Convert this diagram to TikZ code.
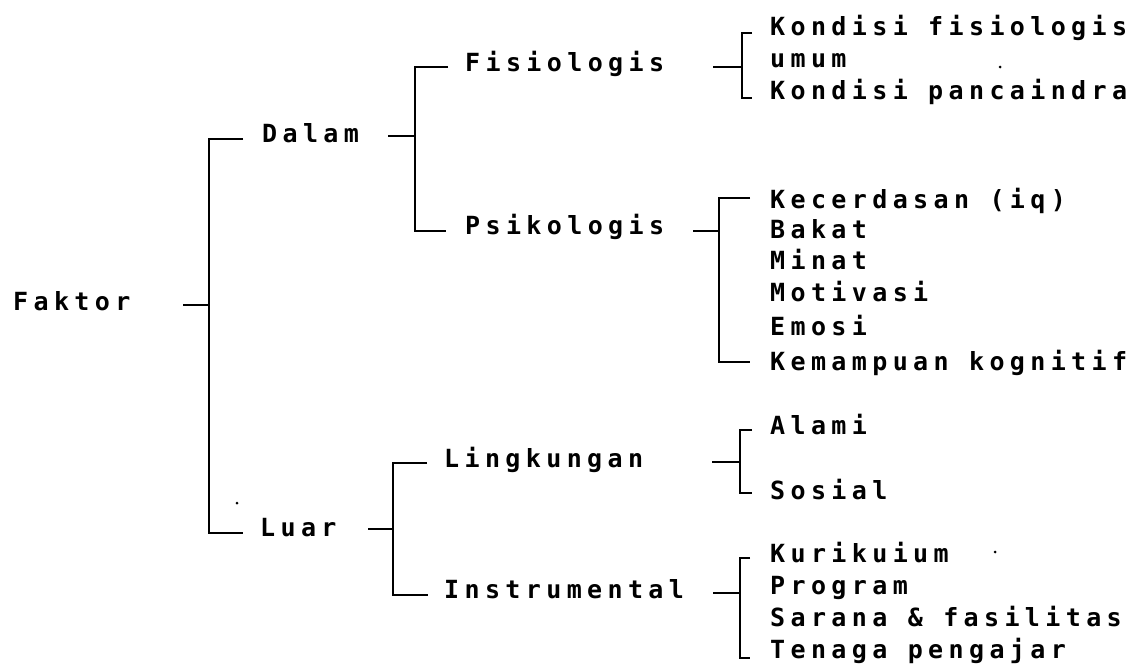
\documentclass[tikz,border=0pt]{standalone}
\usepackage{fontspec}
\newfontfamily\twfont[LetterSpace=21.5]{DejaVu Sans Mono Bold}
\begin{document}
\begin{tikzpicture}[x=1pt,y=-1pt,
  lbl/.style={anchor=base west, inner sep=0pt, font=\twfont\fontsize{25}{28}\selectfont},
  ln/.style={line width=2.8pt, line cap=butt, line join=miter},
  speck/.style={fill=black, inner sep=0pt, minimum size=3pt, circle}]
\useasboundingbox (0,0) rectangle (1138,672);

% level 0/1/2 labels
\node[lbl] (faktor) at (13,310) {Faktor};
\node[lbl] (dalam)  at (262,142) {Dalam};
\node[lbl] (luar)   at (260,536) {Luar};
\node[lbl] (fis)    at (465,71)  {Fisiologis};
\node[lbl] (psi)    at (465,234) {Psikologis};
\node[lbl] (ling)   at (444,467) {Lingkungan};
\node[lbl] (inst)   at (444,598) {Instrumental};

% leaves
\node[lbl] (f1) at (770,35) {Kondisi fisiologis};
\node[lbl] (f2) at (770,67) {umum};
\node[lbl] (f3) at (770,99) {Kondisi pancaindra};

\node[lbl] (p1) at (770,208) {Kecerdasan (iq)};
\node[lbl] (p2) at (770,238) {Bakat};
\node[lbl] (p3) at (770,269) {Minat};
\node[lbl] (p4) at (770,301) {Motivasi};
\node[lbl] (p5) at (770,335) {Emosi};
\node[lbl] (p6) at (770,370) {Kemampuan kognitif};

\node[lbl] (l1) at (770,434) {Alami};
\node[lbl] (l2) at (770,499) {Sosial};

\node[lbl] (i1) at (770,562) {Kurikuium};
\node[lbl] (i2) at (770,594) {Program};
\node[lbl] (i3) at (770,626) {Sarana \& fasilitas};
\node[lbl] (i4) at (770,658) {Tenaga pengajar};

% bracket coordinates
\coordinate (fk-t) at (183,305);  \coordinate (fk-m) at (209,305);
\coordinate (fk-a) at (243,139);  \coordinate (fk-b) at (243,533);
\coordinate (dl-t) at (388,136);  \coordinate (dl-m) at (415,136);
\coordinate (dl-a) at (448,67);   \coordinate (dl-b) at (446,231);
\coordinate (lu-t) at (368,529);  \coordinate (lu-m) at (393,529);
\coordinate (lu-a) at (427,463);  \coordinate (lu-b) at (428,595);
\coordinate (fs-t) at (713,67);   \coordinate (fs-m) at (742,67);
\coordinate (fs-a) at (752,33);   \coordinate (fs-b) at (752,98);
\coordinate (ps-t) at (693,231);  \coordinate (ps-m) at (719,231);
\coordinate (ps-a) at (750,198);  \coordinate (ps-b) at (750,362);
\coordinate (lg-t) at (712,462);  \coordinate (lg-m) at (740,462);
\coordinate (lg-a) at (752,430);  \coordinate (lg-b) at (752,493);
\coordinate (in-t) at (713,593);  \coordinate (in-m) at (740,593);
\coordinate (in-a) at (750,558);  \coordinate (in-b) at (750,658);

% brackets
\draw[ln] (fk-t) -- (fk-m);
\draw[ln] (fk-a) -| (fk-m) |- (fk-b);
\draw[ln] (dl-t) -- (dl-m);
\draw[ln] (dl-a) -| (dl-m) |- (dl-b);
\draw[ln] (lu-t) -- (lu-m);
\draw[ln] (lu-a) -| (lu-m) |- (lu-b);
\draw[ln] (fs-t) -- (fs-m);
\draw[ln] (fs-a) -| (fs-m) |- (fs-b);
\draw[ln] (ps-t) -- (ps-m);
\draw[ln] (ps-a) -| (ps-m) |- (ps-b);
\draw[ln] (lg-t) -- (lg-m);
\draw[ln] (lg-a) -| (lg-m) |- (lg-b);
\draw[ln] (in-t) -- (in-m);
\draw[ln] (in-a) -| (in-m) |- (in-b);

% stray specks of the scan
\node[speck] (s1) at (1000,67) {};
\node[speck] (s2) at (995,552) {};
\node[speck] (s3) at (237,503) {};
\end{tikzpicture}
\end{document}
